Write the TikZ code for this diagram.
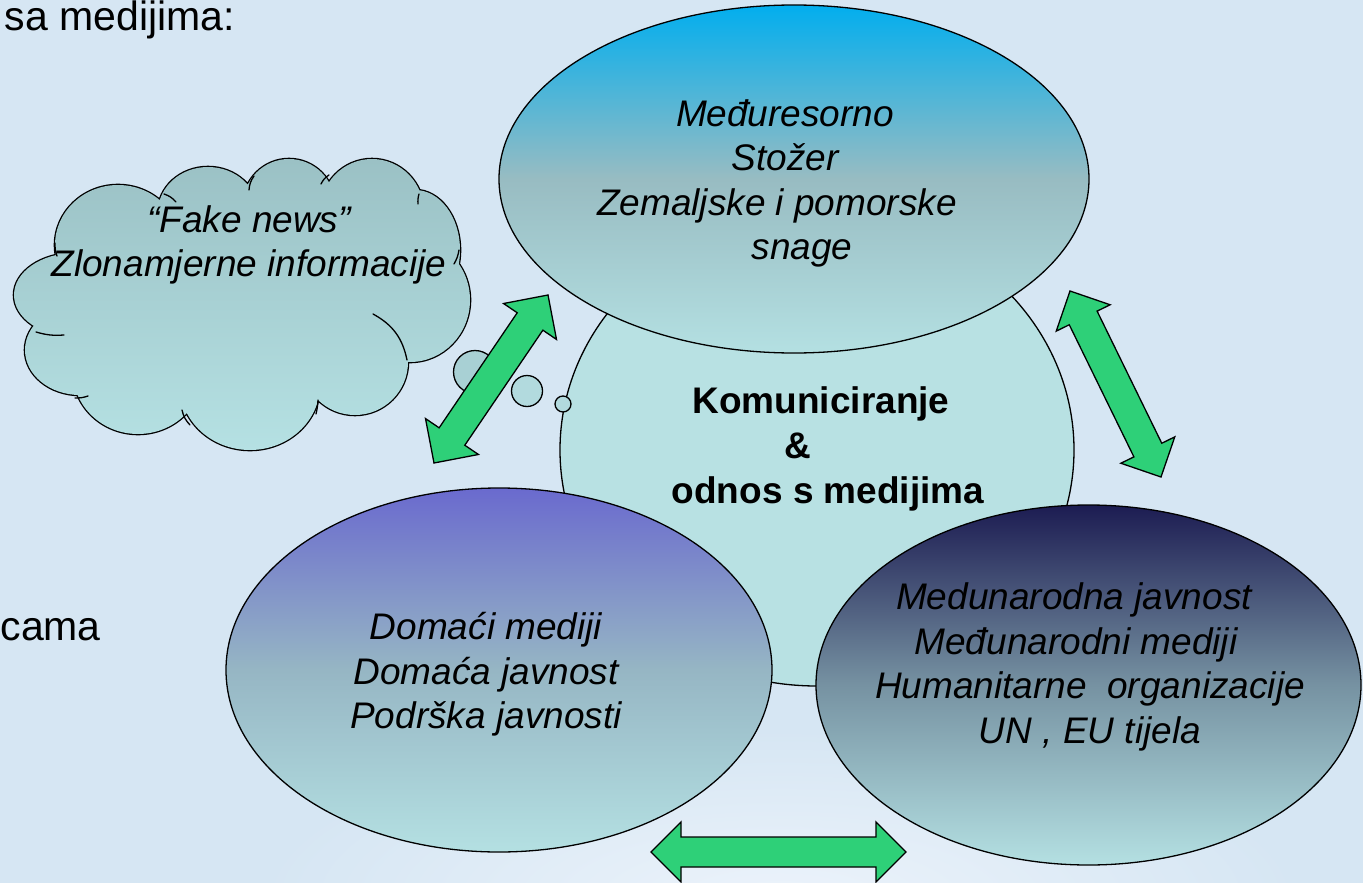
\documentclass[tikz,border=0pt]{standalone}
\usepackage{fontspec}
\setmainfont{Liberation Sans}
\usetikzlibrary{shapes.geometric,calc}
\definecolor{bg}{RGB}{214,230,243}
\definecolor{bglight}{RGB}{236,243,251}
\definecolor{topA}{RGB}{2,174,238}
\definecolor{topB}{RGB}{152,188,194}
\definecolor{ellbot}{RGB}{180,224,226}
\definecolor{dlA}{RGB}{106,106,206}
\definecolor{dlB}{RGB}{150,182,196}
\definecolor{drA}{RGB}{28,28,82}
\definecolor{drB}{RGB}{118,146,162}
\definecolor{hubfill}{RGB}{184,225,227}
\definecolor{cloudA}{RGB}{154,192,196}
\definecolor{cloudB}{RGB}{182,226,228}
\definecolor{bubble}{RGB}{168,208,212}
\definecolor{bubblelight}{RGB}{178,218,222}
\definecolor{arrowgreen}{RGB}{46,208,120}

\tikzset{
  ell/.style={ellipse, draw=black, line width=1.3pt, inner sep=0pt},
  itxt/.style={align=center, inner sep=0pt, font=\fontsize{37}{44.5}\selectfont\itshape},
  btxt/.style={align=center, inner sep=0pt, font=\fontsize{37}{45}\selectfont\bfseries},
  bodytxt/.style={inner sep=0pt, font=\fontsize{41}{48}\selectfont},
  bubblestyle/.style={circle, draw=black, line width=1.3pt, inner sep=0pt},
  arrowstyle/.style={fill=arrowgreen, draw=black, line width=1.3pt, line join=miter},
  cloudline/.style={draw=black, line width=1.3pt, line cap=round},
}

% #1 start, #2 end, #3 shaft half width, #4 head half width, #5 head length
\newcommand\blockarrow[5]{%
  \filldraw[arrowstyle] (#1)
    -- ($(#1)!#5!(#2)!#4!90:(#2)$)
    -- ($(#1)!#5!(#2)!#3!90:(#2)$)
    -- ($(#2)!#5!(#1)!#3!-90:(#1)$)
    -- ($(#2)!#5!(#1)!#4!-90:(#1)$)
    -- (#2)
    -- ($(#2)!#5!(#1)!#4!90:(#1)$)
    -- ($(#2)!#5!(#1)!#3!90:(#1)$)
    -- ($(#1)!#5!(#2)!#3!-90:(#2)$)
    -- ($(#1)!#5!(#2)!#4!-90:(#2)$)
    -- cycle;}

\newcommand\cloudpuffs{%
  (242,300) ellipse [x radius=170, y radius=100]
  (118,245) ellipse [x radius=63, y radius=60]
  (208,212) ellipse [x radius=50, y radius=45]
  (289,205) ellipse [x radius=46, y radius=46]
  (372,212) ellipse [x radius=52, y radius=53]
  (415,250) ellipse [x radius=45, y radius=60]
  (410,300) ellipse [x radius=60, y radius=62]
  (355,362) ellipse [x radius=53, y radius=53]
  (250,385) ellipse [x radius=70, y radius=65]
  (138,372) ellipse [x radius=65, y radius=62]
  (80,350) ellipse [x radius=55, y radius=45]
  (75,295) ellipse [x radius=61, y radius=42]}

\begin{document}
\begin{tikzpicture}[x=1pt,y=-1pt]
\useasboundingbox (0,0) rectangle (1363,883);
\clip (0,0) rectangle (1363,883);
\fill[bg] (0,0) rectangle (1363,883);
\shade[inner color=bglight, outer color=bg] (780,900) ellipse [x radius=520, y radius=170];

% body text fragments
\node[bodytxt, anchor=base east] (t1) at (235,31) {sa medijima:};
\node[bodytxt, anchor=base east] (t2) at (101,640) {cama};

% cloud: outline of all puffs, then the shaded union on top
\draw[line width=2.6pt] \cloudpuffs;
\begin{scope}
  \clip \cloudpuffs;
  \shade[top color=cloudA, bottom color=cloudB] (0,150) rectangle (480,460);
\end{scope}
% inner strokes of the cloud
\draw[cloudline] (164,194) to[bend left=15] (176,202);
\draw[cloudline] (249,190) to[bend left=15] (254,176);
\draw[cloudline] (321,184) to[bend left=15] (329,175);
\draw[cloudline] (418,204) to[bend left=10] (419,194);
\draw[cloudline] (459,250) to[bend left=10] (454,264);
\draw[cloudline] (373,314) to[bend left=25] (407,360);
\draw[cloudline] (318,400) to[bend left=5] (316,414);
\draw[cloudline] (182,410) to[bend right=15] (190,425);
\draw[cloudline] (88,396) to[bend left=10] (75,398);
\draw[cloudline] (64,335) to[bend left=10] (36,332);
\draw[cloudline] (57,256) to[bend left=10] (55,243);

% thought bubbles
\node[bubblestyle, fill=bubble, minimum size=43pt] (b1) at (475,372) {};
\node[bubblestyle, fill=bubblelight, minimum size=31pt] (b2) at (527,391) {};

% central circle
\node[ell, fill=hubfill, minimum width=514pt, minimum height=472pt] (hub) at (817,450) {};
\node[bubblestyle, fill=bubblelight, minimum size=16pt] (b3) at (563,404) {};

% surrounding ellipses (middle color last, so it is not reset)
\node[ell, top color=topA, bottom color=ellbot, middle color=topB,
      minimum width=590pt, minimum height=348pt] (top) at (794,179) {};
\node[ell, top color=dlA, bottom color=ellbot, middle color=dlB,
      minimum width=546pt, minimum height=364pt] (dl) at (499,670) {};
\node[ell, top color=drA, bottom color=ellbot, middle color=drB,
      minimum width=545pt, minimum height=360pt] (dr) at (1088.5,685) {};

% double arrows
\coordinate (a1s) at (434,463);
\coordinate (a1e) at (548,295);
\coordinate (a2s) at (1070,291);
\coordinate (a2e) at (1161,477);
\coordinate (a3s) at (651,852);
\coordinate (a3e) at (906,852);
\blockarrow{a1s}{a1e}{15.5pt}{32pt}{32pt}
\blockarrow{a2s}{a2e}{15.5pt}{30pt}{30pt}
\blockarrow{a3s}{a3e}{15pt}{30pt}{30pt}

% texts
\node[itxt] (cloudtxt) at (249,245) {“Fake news”\\Zlonamjerne informacije};
\node[itxt] (toptxt) at (785,183.5) {Međuresorno\\Stožer\\Zemaljske i pomorske\hspace*{16pt}\mbox{}\\\hspace*{34pt}snage};
\node[btxt] (hubtxt) at (821,448.6) {Komuniciranje\\\&\hspace*{46pt}\mbox{}\\\hspace*{14pt}odnos s medijima};
\node[itxt] (dltxt) at (486,674.6) {Domaći mediji\\Domaća javnost\\Podrška javnosti};
\node[itxt] (drtxt) at (1090,667) {Medunarodna javnost\hspace*{32pt}\mbox{}\\Međunarodni mediji\hspace*{28pt}\mbox{}\\Humanitarne\ \ organizacije\\UN , EU tijela};
\end{tikzpicture}
\end{document}
